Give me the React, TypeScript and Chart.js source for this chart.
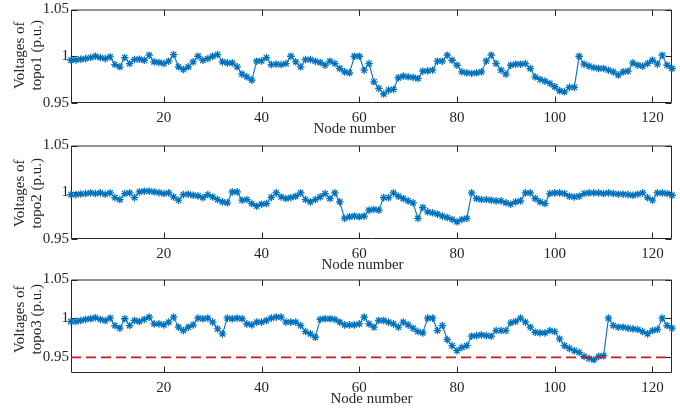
import { useEffect, useRef } from "react";
import { Chart, registerables } from "chart.js";

Chart.register(...registerables);

// Node voltages (p.u.) for nodes 1..124
const topo1 = [
  0.9957, 0.9961, 0.9968, 0.9975, 0.9986, 1.0, 0.9986, 0.9975, 0.9993, 0.9911,
  0.9887, 0.9986, 0.9922, 0.9965, 0.9968, 0.9957, 1.0011, 0.994, 0.9933, 0.9922,
  0.9947, 1.0018, 0.9887, 0.9858, 0.9887, 0.994, 1.0, 0.9957, 0.9975, 1.0,
  1.0018, 0.994, 0.9929, 0.9929, 0.9887, 0.9809, 0.978, 0.9745, 0.9947, 0.995,
  0.9986, 0.9911, 0.9915, 0.9911, 0.9922, 1.0, 0.994, 0.9887, 0.9965, 0.9965,
  0.9947, 0.9933, 0.9904, 0.9947, 0.9922, 0.9869, 0.9833, 0.9823, 1.0, 1.0,
  0.9851, 0.9922, 0.9727, 0.9656, 0.9596, 0.9638, 0.9645, 0.977, 0.9787, 0.978,
  0.9773, 0.9762, 0.984, 0.9844, 0.9851, 0.9947, 0.9947, 1.0011, 0.9957, 0.9904,
  0.9833, 0.9823, 0.9816, 0.9823, 0.9833, 0.995, 1.0011, 0.9922, 0.9851, 0.9809,
  0.9904, 0.9915, 0.9915, 0.9922, 0.9869, 0.978, 0.9752, 0.9734, 0.9709, 0.9674,
  0.9631, 0.962, 0.9667, 0.9667, 1.0, 0.9915, 0.9894, 0.9879, 0.9869, 0.9869,
  0.9851, 0.9833, 0.9798, 0.9833, 0.984, 0.9929, 0.9904, 0.9894, 0.9922, 0.9957,
  0.9915, 1.0011, 0.9904, 0.9869,
];

const topo2 = [
  0.9975, 0.9975, 0.9982, 0.9986, 0.9993, 0.9986, 0.9993, 0.9979, 0.9993, 0.9943,
  0.9922, 0.9986, 0.9993, 0.9943, 1.0004, 1.0011, 1.0011, 1.0004, 0.9996, 0.9986,
  0.9993, 0.995, 0.9915, 0.9975, 0.9979, 0.9968, 0.9961, 0.9943, 0.9975, 0.995,
  0.9922, 0.9897, 0.9887, 1.0004, 1.0004, 0.9915, 0.9922, 0.9879, 0.9851, 0.9872,
  0.9879, 0.9945, 0.9993, 0.995, 0.9933, 0.9943, 0.9957, 0.9993, 0.9922, 0.9897,
  0.9922, 0.995, 0.9986, 0.9933, 0.9993, 0.9897, 0.972, 0.9738, 0.9745, 0.9738,
  0.9745, 0.9809, 0.9816, 0.9809, 0.9943, 0.9943, 0.9993, 0.9957, 0.9933, 0.9908,
  0.9887, 0.972, 0.9837, 0.9791, 0.978, 0.9766, 0.9745, 0.973, 0.9709, 0.9684,
  0.9709, 0.972, 0.9993, 0.9933, 0.9922, 0.9922, 0.9915, 0.9908, 0.9908, 0.9887,
  0.9872, 0.9897, 0.9908, 0.9993, 0.9993, 0.9933, 0.9897, 0.9879, 0.9986, 0.9993,
  0.9993, 0.9986, 0.9957, 0.995, 0.9957, 0.9986, 0.9993, 0.9993, 0.9993, 0.9986,
  0.9993, 0.9986, 0.9979, 0.9979, 0.9975, 0.9968, 0.9979, 0.9993, 0.9943, 0.9915,
  0.9993, 0.9993, 0.9986, 0.9968,
];

const topo3 = [
  0.9961, 0.9961, 0.9974, 0.9987, 0.9996, 1.0009, 0.9987, 0.9974, 1.0004, 0.9909,
  0.9875, 0.9996, 0.9909, 0.9974, 0.9961, 0.9987, 1.0017, 0.9931, 0.9931, 0.9918,
  0.9953, 1.0017, 0.9888, 0.9845, 0.9888, 0.9918, 1.0004, 0.9996, 1.0004, 0.9953,
  0.9866, 0.9802, 1.0004, 0.9996, 1.0004, 0.9996, 0.9931, 0.9918, 0.9953, 0.9953,
  0.9974, 1.0004, 1.0017, 1.0017, 0.9953, 0.9953, 0.9953, 0.9909, 0.9832, 0.9802,
  0.9759, 0.9987, 0.9996, 0.9996, 0.9987, 0.9953, 0.9918, 0.9918, 0.9918, 0.9931,
  1.0017, 0.9931, 0.9888, 0.9974, 0.9974, 0.9953, 0.9931, 0.9888, 0.9953, 0.9918,
  0.9875, 0.9832, 0.9815, 1.0004, 1.0004, 0.9845, 0.9909, 0.9728, 0.9651, 0.9586,
  0.9629, 0.9651, 0.9772, 0.978, 0.9789, 0.978, 0.9772, 0.9845, 0.9845, 0.9845,
  0.9944, 0.9961, 1.0004, 0.9953, 0.9888, 0.9823, 0.9815, 0.9815, 0.9845, 0.9832,
  0.9737, 0.9651, 0.9616, 0.9586, 0.9565, 0.9513, 0.9487, 0.947, 0.9513, 0.9522,
  1.0004, 0.9909, 0.9888, 0.9888, 0.9875, 0.9866, 0.9858, 0.9832, 0.9802, 0.9845,
  0.9858, 1.0004, 0.9909, 0.9875,
];

const limitValue = 0.95;
const xMin = 1;
const xMax = 124;
const xTicks = [20, 40, 60, 80, 100, 120];
const yTicks = [0.95, 1, 1.05];
const xTitle = "Node number";
const yTitleFirstLine = "Voltages of";

const BLUE = "#0072BD";
const AXIS = "#262626";
const RED = "#D01A1A";
const FONT = "'Liberation Serif', 'Times New Roman', serif";
const FONT_CSS = "15px 'Liberation Serif', 'Times New Roman', serif";

const framePlugin = {
  id: "frame",
  beforeDatasetsDraw(chart: any) {
    const { ctx, chartArea: a, scales } = chart;
    const x = scales.x;
    const y = scales.y;
    ctx.save();
    ctx.strokeStyle = AXIS;
    ctx.lineWidth = 1;
    const l = a.left + 0.5;
    const r = a.right - 0.5;
    const t = a.top + 0.5;
    const b = a.bottom - 0.5;
    ctx.beginPath();
    ctx.rect(l, t, r - l, b - t);
    for (const tk of x.ticks) {
      const px = Math.round(x.getPixelForValue(tk.value)) + 0.5;
      ctx.moveTo(px, b);
      ctx.lineTo(px, b - 6);
      ctx.moveTo(px, t);
      ctx.lineTo(px, t + 6);
    }
    for (const tk of y.ticks) {
      const py = Math.round(y.getPixelForValue(tk.value)) + 0.5;
      ctx.moveTo(l, py);
      ctx.lineTo(l + 6, py);
      ctx.moveTo(r, py);
      ctx.lineTo(r - 6, py);
    }
    ctx.stroke();
    ctx.restore();
  },
};

function makeTitlePlugin(yLines: string[], xTitleShift: number, yTitleShift: number) {
  return {
    id: "titles",
    afterDraw(chart: any) {
      const { ctx, chartArea: a } = chart;
      ctx.save();
      ctx.fillStyle = AXIS;
      ctx.font = FONT_CSS;
      ctx.textAlign = "center";
      ctx.textBaseline = "middle";
      // x-axis title
      ctx.fillText(xTitle, (a.left + a.right) / 2 + xTitleShift, a.bottom + 26);
      // y-axis title (two lines, rotated)
      const cy = (a.top + a.bottom) / 2 + yTitleShift;
      yLines.forEach((line, i) => {
        ctx.save();
        ctx.translate(20.5 + i * 17, cy);
        ctx.rotate(-Math.PI / 2);
        ctx.fillText(line, 0, 0);
        ctx.restore();
      });
      ctx.restore();
    },
  };
}

type PanelProps = {
  values: number[];
  label: string;
  top: number;
  yMin: number;
  xTitleShift: number;
  yTitleShift: number;
  showLimit?: boolean;
};

function Panel({ values, label, top, yMin, xTitleShift, yTitleShift, showLimit }: PanelProps) {
  const ref = useRef<HTMLCanvasElement | null>(null);
  useEffect(() => {
    if (!ref.current) return;
    const datasets: any[] = [
      {
        data: values.map((v, i) => ({ x: xMin + i, y: v })),
        borderColor: BLUE,
        backgroundColor: BLUE,
        borderWidth: 1.1,
        pointStyle: "star",
        pointRadius: 3.8,
        pointBorderColor: BLUE,
        pointBorderWidth: 1.3,
        tension: 0,
        clip: false,
        order: 1,
      },
    ];
    if (showLimit) {
      datasets.push({
        data: [
          { x: xMin, y: limitValue },
          { x: xMax, y: limitValue },
        ],
        borderColor: RED,
        borderWidth: 1.6,
        borderDash: [10, 5],
        pointRadius: 0,
        order: 0,
      });
    }
    const chart = new Chart(ref.current, {
      type: "line",
      data: { datasets },
      options: {
        animation: false,
        responsive: false,
        events: [],
        layout: { padding: { top: 9, left: 0, right: 8, bottom: 0 } },
        plugins: { legend: { display: false }, tooltip: { enabled: false } },
        scales: {
          x: {
            type: "linear",
            min: xMin,
            max: xMax,
            grid: { display: false, drawTicks: false },
            border: { display: false },
            afterBuildTicks: (s: any) => {
              s.ticks = xTicks.map((v) => ({ value: v }));
            },
            afterFit: (s: any) => {
              s.height = 37;
            },
            ticks: {
              color: AXIS,
              padding: 6,
              maxRotation: 0,
              autoSkip: false,
              font: { family: FONT, size: 15, lineHeight: 1.2 },
              callback: (v: any) => String(v),
            },
            title: { display: false },
          },
          y: {
            type: "linear",
            min: yMin,
            max: 1.05,
            grid: { display: false, drawTicks: false },
            border: { display: false },
            afterBuildTicks: (s: any) => {
              s.ticks = yTicks.map((v) => ({ value: v }));
            },
            afterFit: (s: any) => {
              s.width = 71;
            },
            ticks: {
              color: AXIS,
              padding: 2,
              font: { family: FONT, size: 15, lineHeight: 1 },
              callback: (v: any) => String(v),
            },
            title: { display: false },
          },
        },
      },
      plugins: [
        framePlugin,
        makeTitlePlugin([yTitleFirstLine, label + " (p.u.)"], xTitleShift, yTitleShift),
      ],
    });
    return () => chart.destroy();
  }, [values, label, yMin, showLimit, xTitleShift, yTitleShift]);

  return (
    <canvas
      ref={ref}
      width={680}
      height={140}
      style={{ position: "absolute", left: 0, top, width: 680, height: 140 }}
    />
  );
}

export default function App() {
  return (
    <div
      style={{
        position: "fixed",
        left: 0,
        top: 0,
        width: 680,
        height: 414,
        background: "#ffffff",
        overflow: "hidden",
      }}
    >
      <Panel values={topo1} label="topo1" top={0} yMin={0.95} xTitleShift={-17} yTitleShift={-1} />
      <Panel values={topo2} label="topo2" top={136} yMin={0.95} xTitleShift={-9} yTitleShift={1} />
      <Panel
        values={topo3}
        label="topo3"
        top={270}
        yMin={0.93}
        xTitleShift={0}
        yTitleShift={-7}
        showLimit
      />
    </div>
  );
}
